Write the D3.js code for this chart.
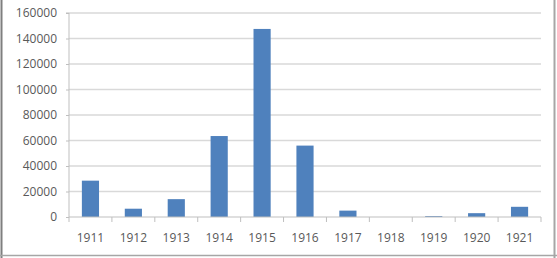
<!DOCTYPE html>
<html><head><meta charset="utf-8">
<script src="https://cdn.jsdelivr.net/npm/d3@7"></script>
<style>html,body{margin:0;padding:0;background:#fff;}svg{display:block;}</style>
</head><body>
<svg id="c" width="557" height="258"></svg>
<script>
const years = ["1911","1912","1913","1914","1915","1916","1917","1918","1919","1920","1921"];
const values = [28500, 6500, 14000, 63500, 147500, 56000, 5000, 0, 700, 3000, 8000];
const yTicks = [0, 20000, 40000, 60000, 80000, 100000, 120000, 140000, 160000];

const svg = d3.select("#c");
const L = 69, R = 541, T = 13, B = 217;
const FONT = "'Open Sans', 'Liberation Sans', Arial, sans-serif";
const x = d3.scaleBand().domain(years).range([L, R]).paddingInner(0.6).paddingOuter(0.3);
const xt = d3.scaleBand().domain(years).range([L, R]);
const y = d3.scaleLinear().domain([0, 160000]).range([B, T]);

// frame
svg.append("line").attr("x1",1.5).attr("x2",1.5).attr("y1",0).attr("y2",258).attr("stroke","#7f7f7f").attr("stroke-width",2);
svg.append("line").attr("x1",554.5).attr("x2",554.5).attr("y1",0).attr("y2",258).attr("stroke","#a6a6a6").attr("stroke-width",2);
svg.append("line").attr("x1",0).attr("x2",557).attr("y1",255.5).attr("y2",255.5).attr("stroke","#a6a6a6").attr("stroke-width",1.5);

// gridlines
svg.append("g").selectAll("line").data(yTicks.filter(d=>d>0)).join("line")
  .attr("x1",L).attr("x2",R).attr("y1",d=>y(d)).attr("y2",d=>y(d))
  .attr("stroke","#d9d9d9").attr("stroke-width",1.5);

// y axis
const ya = svg.append("g").attr("transform",`translate(${L},0)`)
  .call(d3.axisLeft(y).tickValues(yTicks).tickFormat(d3.format("d")).tickSize(3).tickPadding(9));
ya.select(".domain").attr("stroke","#bfbfbf").attr("d",`M-3,${T}H0V${B}`);
ya.selectAll(".tick line").attr("stroke","#bfbfbf");
ya.selectAll("text").attr("fill","#595959").style("font-family",FONT).style("font-size","12px");

// bars
svg.append("g").selectAll("rect").data(values).join("rect")
  .attr("x",(d,i)=>x(years[i])).attr("width",x.bandwidth())
  .attr("y",d=>y(d)).attr("height",d=>B-y(d)).attr("fill","#4f81bd");

// x axis
const xa = svg.append("g").attr("transform",`translate(0,${B})`);
xa.append("line").attr("x1",L).attr("x2",R).attr("y1",0).attr("y2",0).attr("stroke","#bfbfbf").attr("stroke-width",1);
const tickPos = years.map(d=>xt(d)).concat([R]);
xa.selectAll("line.t").data(tickPos).join("line").attr("class","t")
  .attr("x1",d=>d).attr("x2",d=>d).attr("y1",0).attr("y2",5).attr("stroke","#bfbfbf");
xa.selectAll("text").data(years).join("text")
  .attr("x",d=>xt(d)+xt.bandwidth()/2).attr("y",25)
  .attr("text-anchor","middle").attr("fill","#595959")
  .style("font-family",FONT).style("font-size","12px")
  .text(d=>d);
</script>
</body></html>
